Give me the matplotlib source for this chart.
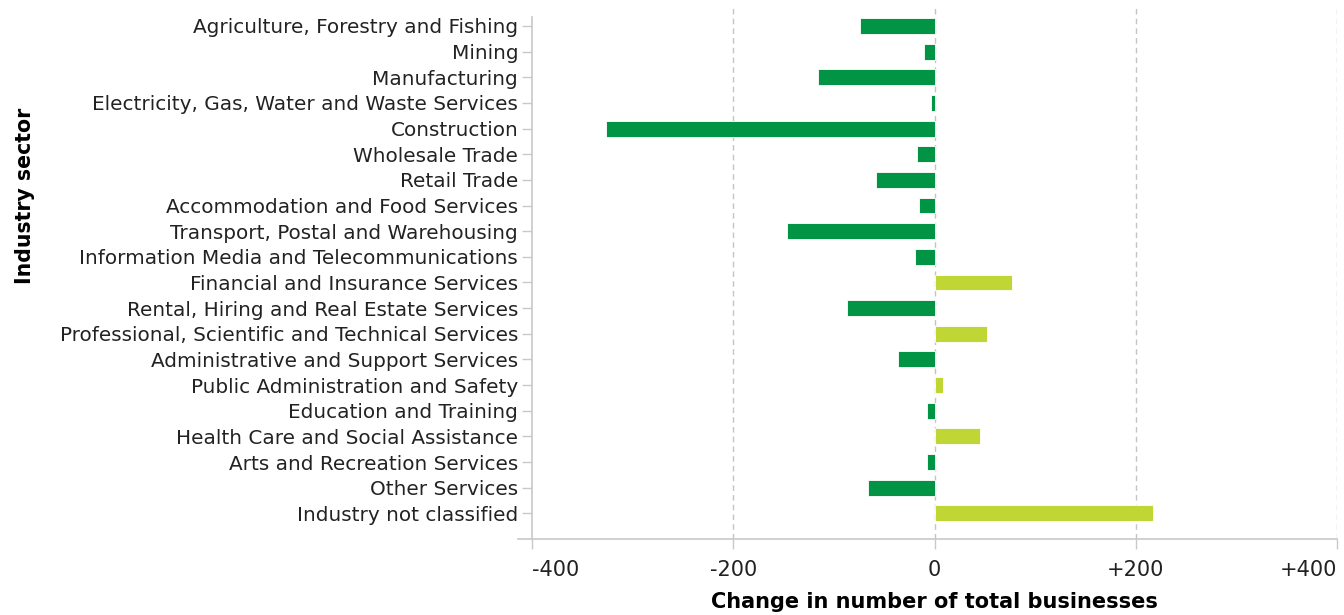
import numpy as np
import matplotlib.pyplot as plt

sectors = ["Agriculture, Forestry and Fishing", "Mining", "Manufacturing",
           "Electricity, Gas, Water and Waste Services", "Construction",
           "Wholesale Trade", "Retail Trade", "Accommodation and Food Services",
           "Transport, Postal and Warehousing",
           "Information Media and Telecommunications",
           "Financial and Insurance Services",
           "Rental, Hiring and Real Estate Services",
           "Professional, Scientific and Technical Services",
           "Administrative and Support Services",
           "Public Administration and Safety", "Education and Training",
           "Health Care and Social Assistance", "Arts and Recreation Services",
           "Other Services", "Industry not classified"]
change = [-74, -10, -116, -4, -327, -17, -58, -15, -147, -19,
          77, -87, 52, -36, 8, -7, 45, -7, -66, 217]
xticks = [-400, -200, 0, 200, 400]
xtick_labels = ["-400", "-200", "0", "+200", "+400"]

dark_green = "#009444"
light_green = "#c0d634"
axis_grey = "#c8c8c8"

plt.rcParams['font.family'] = ['DejaVu Sans']

fig = plt.figure(figsize=(13.44, 6.15), dpi=100)
ax = fig.add_axes([518/1344, 1-539/615, (1337-518)/1344, (539-8)/615])

y = np.arange(len(sectors))
colors = [dark_green if v < 0 else light_green for v in change]
ax.barh(y, change, height=0.62, color=colors, edgecolor="white",
        linewidth=0.6, zorder=3)

ax.set_xlim(-414, 400)
ax.set_ylim(20, -0.7)
ax.set_xticks(xticks)
ax.set_xticklabels(xtick_labels)
ax.set_yticks(y)
ax.set_yticklabels(sectors)

# first label sits to the right of its tick, last one to the left
tl = ax.get_xticklabels()
tl[0].set_horizontalalignment("left")
tl[-1].set_horizontalalignment("right")

for xv in xticks[1:]:
    ax.axvline(xv, color="#c4c4c4", linestyle=(0, (4, 3)), linewidth=1,
               zorder=1)

for s in ["top", "right"]:
    ax.spines[s].set_visible(False)
ax.spines["left"].set_position(("data", -400))
ax.spines["left"].set_bounds(20, -0.35)
ax.spines["left"].set_color(axis_grey)
ax.spines["bottom"].set_color(axis_grey)
ax.spines["left"].set_linewidth(1.2)
ax.spines["bottom"].set_linewidth(1.2)

ax.tick_params(axis="both", length=7, width=1, color=axis_grey,
               labelcolor="#222222")
ax.tick_params(axis="y", pad=3, labelsize=14.4)
ax.tick_params(axis="x", pad=8, labelsize=15)

fig.text(934/1344, 1-602/615, "Change in number of total businesses",
         ha="center", va="center", fontsize=15, fontweight="bold")
fig.text(25/1344, 1-196/615, "Industry sector", rotation=90,
         ha="center", va="center", fontsize=14.8, fontweight="bold")

fig.savefig("out.png", dpi=100)
